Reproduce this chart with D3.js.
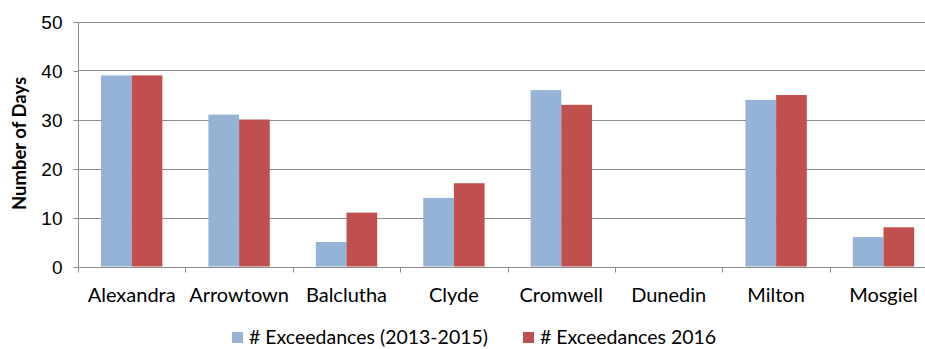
<!DOCTYPE html>
<html>
<head>
<meta charset="utf-8">
<script src="https://cdn.jsdelivr.net/npm/d3@7"></script>
<style>
  html, body { margin: 0; padding: 0; background: #fff; }
  svg { display: block; font-family: Lato, "Open Sans", sans-serif; }
</style>
</head>
<body>
<svg id="chart" width="925" height="349"></svg>
<script>
const categories = ["Alexandra", "Arrowtown", "Balclutha", "Clyde", "Cromwell", "Dunedin", "Milton", "Mosgiel"];
const seriesNames = ["# Exceedances (2013-2015)", "# Exceedances 2016"];
const exceed2013_2015 = [39, 31, 5, 14, 36, 0, 34, 6];
const exceed2016 = [39, 30, 11, 17, 33, 0, 35, 8];
const yTicks = [0, 10, 20, 30, 40, 50];
const colors = ["#95B3D7", "#C0504D"];

const svg = d3.select("#chart");
const plotLeft = 78, plotTop = 21.5, plotBottom = 266.5;
const bandW = 107.4;
const plotRight = plotLeft + bandW * categories.length;

const x = d3.scaleBand().domain(categories).range([plotLeft, plotRight]).paddingInner(0).paddingOuter(0);
const xs = d3.scaleBand().domain([0, 1]).range([0, x.bandwidth()]).paddingInner(0).paddingOuter(0.75);
const y = d3.scaleLinear().domain([0, 50]).range([plotBottom, plotTop]);

// Horizontal gridlines
svg.append("g").selectAll("line").data(yTicks).join("line")
  .attr("x1", plotLeft).attr("x2", plotRight)
  .attr("y1", d => Math.round(y(d)) + 0.5).attr("y2", d => Math.round(y(d)) + 0.5)
  .attr("stroke", "#8c8c8c").attr("stroke-width", 1);

// Bars
const series = [exceed2013_2015, exceed2016];
series.forEach((vals, si) => {
  svg.append("g").selectAll("rect").data(categories).join("rect")
    .attr("x", d => x(d) + xs(si))
    .attr("width", xs.bandwidth())
    .attr("y", (d, i) => y(vals[i]))
    .attr("height", (d, i) => y(0) - y(vals[i]))
    .attr("fill", colors[si]);
});

// Y axis
const yAxis = d3.axisLeft(y).tickValues(yTicks).tickSize(5).tickPadding(6);
const gy = svg.append("g").attr("transform", `translate(${plotLeft + 0.5},0.5)`).call(yAxis);
gy.select(".domain").attr("stroke", "#8c8c8c").attr("d", `M0,${y(50)}V${y(0) + 5}`);
gy.selectAll(".tick line").attr("stroke", "#8c8c8c");
gy.selectAll(".tick text").attr("font-size", 19).attr("fill", "#000").attr("dx", -5).attr("dy", "0.34em");

// X axis (ticks at category boundaries)
const gx = svg.append("g").attr("transform", `translate(0,${Math.round(plotBottom) + 0.5})`);
gx.append("line").attr("x1", plotLeft).attr("x2", plotRight).attr("stroke", "#8c8c8c");
const bounds = categories.map(c => x(c)).concat([plotRight]);
gx.selectAll("line.tk").data(bounds).join("line").attr("class", "tk")
  .attr("x1", d => Math.round(d) + 0.5).attr("x2", d => Math.round(d) + 0.5)
  .attr("y1", 0).attr("y2", 5).attr("stroke", "#8c8c8c");
gx.selectAll("text").data(categories).join("text")
  .attr("x", d => x(d) + x.bandwidth() / 2)
  .attr("y", 34.5)
  .attr("text-anchor", "middle")
  .attr("font-size", 20)
  .attr("fill", "#000")
  .text(d => d);

// Y axis title
svg.append("text")
  .attr("transform", `translate(26,143.5) rotate(-90)`)
  .attr("text-anchor", "middle")
  .attr("font-size", 18.5).attr("font-weight", "bold")
  .text("Number of Days");

// Legend
const legendX = [232, 523];
seriesNames.forEach((name, i) => {
  const g = svg.append("g").attr("transform", `translate(${legendX[i]},332)`);
  g.append("rect").attr("width", 11).attr("height", 11).attr("fill", colors[i]);
  g.append("text").attr("x", 17).attr("y", 12).attr("font-size", 19.5).attr("fill", "#000").text(name);
});
</script>
</body>
</html>
